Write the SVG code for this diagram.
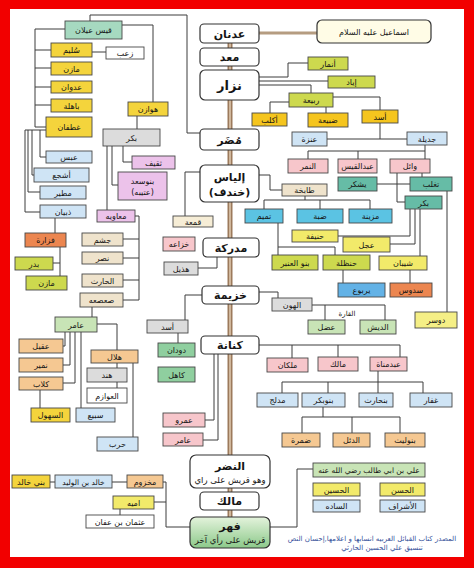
<svg xmlns="http://www.w3.org/2000/svg" width="474" height="568" viewBox="0 0 474 568">
<style>
.b{stroke:#474747;stroke-width:0.9}
.y{fill:#f4d43c}.yg{fill:#cdd94e}.ly{fill:#f2ea6a}.lb{fill:#cfe4f5}.pk{fill:#f7c6cb}.lv{fill:#ecc2ea}
.tl{fill:#66bca6}.cy{fill:#5bc3e3}.gr{fill:#8fcf9f}.lg{fill:#c8e4b6}.bg{fill:#efe3cc}.pc{fill:#f5c892}
.or{fill:#ec8650}.bl{fill:#63b2e6}.gy{fill:#dcdcdc}.wh{fill:#fff}.au{fill:#f5c51e}.qt{fill:#a6d9c0}
.cn{fill:#fff;stroke:#333;stroke-width:1.2}
.t{font-family:"DejaVu Sans","Noto Sans",sans-serif;font-size:8px;text-anchor:middle;fill:#151515;direction:rtl}
.tc{font-family:"DejaVu Sans","Noto Sans",sans-serif;font-size:11px;font-weight:bold;text-anchor:middle;fill:#151515;direction:rtl}
.c path{fill:none;stroke:#3c3c3c;stroke-width:1}
.src{font-family:"DejaVu Sans","Noto Sans",sans-serif;font-size:7px;text-anchor:middle;fill:#34509a;direction:rtl}
</style>
<defs>
<linearGradient id="fg" x1="0" y1="0" x2="0" y2="1"><stop offset="0" stop-color="#e4f3dc"/><stop offset="1" stop-color="#8cc98a"/></linearGradient>
</defs>
<rect x="0" y="0" width="474" height="568" fill="#f20000"/>
<rect x="10" y="9" width="454" height="548" fill="#fff"/>

<g id="connectors" class="c">
<path d="M259,33 H317" style="stroke:#b59c80;stroke-width:3"/>
<path d="M230,43 V517" style="stroke:#9c7a5c;stroke-width:5"/>
<path d="M230,43 V517" style="stroke:#e2cdb2;stroke-width:1.5"/>
<path d="M259,77 H288 V63 H308"/>
<path d="M259,81 H328"/>
<path d="M259,85 H311 V93"/>
<path d="M289,102 H270 V113"/>
<path d="M326,107 V113"/>
<path d="M333,97 H380 V110"/>
<path d="M380,123 V139 M327,139 H407"/>
<path d="M425,145 V159 M308,159 V151 H425 M358,151 V159"/>
<path d="M397,173 V202 H405"/>
<path d="M422,173 V177"/>
<path d="M377,184 H410"/>
<path d="M410,209 V236 H338"/>
<path d="M415,209 V244 H390"/>
<path d="M420,209 V256"/>
<path d="M447,191 V312"/>
<path d="M410,270 V283"/>
<path d="M343,270 V283"/>
<path d="M278,223 V255 M278,247 H335 V255"/>
<path d="M259,175 H270 V190 H282"/>
<path d="M305,196 V200 M264,209 V200 H370 V209 M320,200 V209"/>
<path d="M200,172 H185 V216"/>
<path d="M217,257 V268 H198"/>
<path d="M200,133 H187 V15 H90 V21"/>
<path d="M122,25 H153 V102"/>
<path d="M137,116 V129"/>
<path d="M65,29 H35 V127 H46 M35,50 H51 M35,68 H51 M35,87 H51 M35,105 H51"/>
<path d="M92,52 H106"/>
<path d="M46,130 H25 V212 H40 M28,130 V192 H40 M32,130 V175 H34 M40,130 V157 H46"/>
<path d="M55,218 V233"/>
<path d="M60,247 V276 M60,263 H53"/>
<path d="M123,146 V162 H132"/>
<path d="M112,146 V185 H118"/>
<path d="M107,146 V210"/>
<path d="M135,216 H139 V300 H123 M139,239 H123 M139,258 H123 M139,280 H123"/>
<path d="M92,307 V317"/>
<path d="M65,332 V346 H63 M70,332 V365 H63 M75,332 V383 H63 M81,332 V408"/>
<path d="M97,324 H117 V350"/>
<path d="M117,363 V368 M117,382 V388"/>
<path d="M133,363 V437"/>
<path d="M40,390 V408"/>
<path d="M259,292 H278 V298"/>
<path d="M312,305 H385 M325,305 V320 M385,305 V320"/>
<path d="M202,295 H185 V320"/>
<path d="M178,333 V343"/>
<path d="M259,345 H400 M292,345 V358 M338,345 V357 M400,345 V357"/>
<path d="M378,371 V382 M282,382 H423 M282,382 V393 M328,382 V393 M378,382 V393 M423,382 V393"/>
<path d="M323,407 V417 M302,417 H400 M302,417 V433 M352,417 V433 M400,417 V433"/>
<path d="M214,354 V420 H205"/>
<path d="M218,354 V440 H203"/>
<path d="M190,527 H166 V482 H163 M154,502 H166"/>
<path d="M127,482 H112 M55,482 H50"/>
<path d="M120,509 V515"/>
<path d="M270,527 H297 V469 H313"/>
</g>

<!-- central trunk nodes -->
<g id="n-adnan"><rect class="cn" x="200" y="24" width="59" height="19" rx="4"/><text class="tc" x="229.5" y="38">عدنان</text></g>
<g id="n-maad"><rect class="cn" x="200" y="48" width="59" height="18" rx="4"/><text class="tc" x="229.5" y="61">معد</text></g>
<g id="n-nizar"><rect class="cn" x="200" y="70" width="59" height="30" rx="5"/><text class="tc" x="229.5" y="90" style="font-size:13px">نزار</text></g>
<g id="n-mudar"><rect class="cn" x="200" y="129" width="59" height="21" rx="4"/><text class="tc" x="229.5" y="144">مُضَر</text></g>
<g id="n-ilyas"><rect class="cn" x="200" y="165" width="59" height="37" rx="5"/><text class="tc" x="229.5" y="181">إلياس</text><text class="tc" x="229.5" y="196">(خندف)</text></g>
<g id="n-mudrika"><rect class="cn" x="203" y="238" width="56" height="19" rx="4"/><text class="tc" x="231" y="252">مدركة</text></g>
<g id="n-khuzayma"><rect class="cn" x="202" y="286" width="57" height="18" rx="4"/><text class="tc" x="230.5" y="299">خزيمة</text></g>
<g id="n-kinana"><rect class="cn" x="201" y="336" width="58" height="18" rx="4"/><text class="tc" x="230" y="349">كنانة</text></g>
<g id="n-nadr"><rect class="cn" x="190" y="455" width="80" height="33" rx="6"/><text class="tc" x="230" y="470">النضر</text><text class="t" x="230" y="483" style="font-size:8.5px">وهو قريش على راي</text></g>
<g id="n-malik"><rect class="cn" x="200" y="492" width="59" height="18" rx="4"/><text class="tc" x="229.5" y="505">مالك</text></g>
<g id="n-fihr"><rect x="190" y="517" width="80" height="31" rx="6" fill="url(#fg)" stroke="#333" stroke-width="1.2"/><text class="tc" x="230" y="530">فهر</text><text class="t" x="230" y="543" style="font-size:8.5px">قريش على رأي آخر</text></g>
<g id="n-ismail"><rect x="317" y="20" width="114" height="23" rx="5" fill="#fffce6" stroke="#333" stroke-width="1.2"/><text class="t" x="374" y="35">اسماعيل عليه السلام</text></g>

<!-- right side -->
<g id="n-anmar"><rect class="b yg" x="308" y="57" width="40" height="13"/><text class="t" x="328" y="66.5">أنمار</text></g>
<g id="n-iyad"><rect class="b yg" x="328" y="76" width="47" height="12"/><text class="t" x="351.5" y="85">إياد</text></g>
<g id="n-rabia"><rect class="b yg" x="289" y="93" width="44" height="14"/><text class="t" x="311" y="103">ربيعة</text></g>
<g id="n-aklub"><rect class="b au" x="252" y="113" width="35" height="13"/><text class="t" x="269.5" y="122.5">أكلب</text></g>
<g id="n-dubayaa"><rect class="b au" x="308" y="113" width="40" height="14"/><text class="t" x="328" y="123">ضبيعة</text></g>
<g id="n-asad"><rect class="b au" x="362" y="110" width="36" height="13"/><text class="t" x="380" y="119.5">أسد</text></g>
<g id="n-anaza"><rect class="b lb" x="292" y="132" width="35" height="14"/><text class="t" x="309.5" y="142">عنزة</text></g>
<g id="n-jadila"><rect class="b lb" x="407" y="132" width="40" height="13"/><text class="t" x="427" y="141.5">جديلة</text></g>
<g id="n-namir"><rect class="b pk" x="288" y="159" width="40" height="14"/><text class="t" x="308" y="169">النمر</text></g>
<g id="n-abdqays"><rect class="b pk" x="338" y="159" width="39" height="14"/><text class="t" x="357.5" y="169">عبدالقيس</text></g>
<g id="n-wail"><rect class="b pk" x="390" y="159" width="40" height="14"/><text class="t" x="410" y="169">وائل</text></g>
<g id="n-yashkur"><rect class="b tl" x="338" y="177" width="39" height="14"/><text class="t" x="357.5" y="187">يشكر</text></g>
<g id="n-taghlib"><rect class="b tl" x="410" y="177" width="42" height="14"/><text class="t" x="431" y="187">تغلب</text></g>
<g id="n-bakr2"><rect class="b tl" x="405" y="196" width="37" height="13"/><text class="t" x="423.5" y="205.5">بكر</text></g>
<g id="n-tabikha"><rect class="b bg" x="282" y="184" width="45" height="12"/><text class="t" x="304.5" y="193">طابخة</text></g>
<g id="n-tamim"><rect class="b cy" x="245" y="209" width="38" height="14"/><text class="t" x="264" y="219">تميم</text></g>
<g id="n-dabba"><rect class="b cy" x="297" y="209" width="46" height="14"/><text class="t" x="320" y="219">ضبة</text></g>
<g id="n-muzayna"><rect class="b cy" x="349" y="209" width="43" height="14"/><text class="t" x="370.5" y="219">مزينة</text></g>
<g id="n-hanifa"><rect class="b ly" x="292" y="230" width="46" height="12"/><text class="t" x="315" y="239">حنيفة</text></g>
<g id="n-ijl"><rect class="b ly" x="343" y="237" width="47" height="15"/><text class="t" x="366.5" y="247.5">عجل</text></g>
<g id="n-anbar"><rect class="b yg" x="272" y="255" width="46" height="15"/><text class="t" x="295" y="265.5">بنو العنبر</text></g>
<g id="n-hanzala"><rect class="b yg" x="323" y="255" width="47" height="15"/><text class="t" x="346.5" y="265.5">حنظلة</text></g>
<g id="n-shayban"><rect class="b ly" x="379" y="256" width="48" height="14"/><text class="t" x="403" y="266">شيبان</text></g>
<g id="n-yarbu"><rect class="b bl" x="338" y="283" width="47" height="14"/><text class="t" x="361.5" y="293">يربوع</text></g>
<g id="n-sadus"><rect class="b or" x="390" y="283" width="42" height="14"/><text class="t" x="411" y="293">سدوس</text></g>
<g id="n-dawsar"><rect class="b" x="415" y="312" width="42" height="16" fill="#f5ef86"/><text class="t" x="436" y="323">دوسر</text></g>
<g id="n-hawn"><rect class="b gy" x="272" y="298" width="40" height="13"/><text class="t" x="292" y="307.5">الهون</text></g>
<g id="n-qara"><text class="t" x="347" y="316" style="font-size:7px">القارة</text></g>
<g id="n-adal"><rect class="b lg" x="308" y="320" width="37" height="14"/><text class="t" x="326.5" y="330">عضل</text></g>
<g id="n-dish"><rect class="b lg" x="360" y="320" width="36" height="14"/><text class="t" x="378" y="330">الديش</text></g>
<g id="n-asad2"><rect class="b gy" x="147" y="320" width="41" height="13"/><text class="t" x="167.5" y="329.5">أسد</text></g>
<g id="n-dudan"><rect class="b gr" x="158" y="343" width="37" height="14"/><text class="t" x="176.5" y="353">دودان</text></g>
<g id="n-kahil"><rect class="b gr" x="158" y="367" width="37" height="15"/><text class="t" x="176.5" y="377.5">كاهل</text></g>
<g id="n-milkan"><rect class="b pk" x="267" y="358" width="41" height="14"/><text class="t" x="287.5" y="368">ملكان</text></g>
<g id="n-malik2"><rect class="b pk" x="318" y="357" width="40" height="14"/><text class="t" x="338" y="367">مالك</text></g>
<g id="n-abdmanat"><rect class="b pk" x="370" y="357" width="37" height="14"/><text class="t" x="388.5" y="367">عبدمناة</text></g>
<g id="n-mudlij"><rect class="b lb" x="257" y="393" width="41" height="14"/><text class="t" x="277.5" y="403">مدلج</text></g>
<g id="n-banubakr"><rect class="b lb" x="302" y="393" width="43" height="14"/><text class="t" x="323.5" y="403">بنوبكر</text></g>
<g id="n-banuharith"><rect class="b lb" x="359" y="393" width="34" height="14"/><text class="t" x="376" y="403">بنحارث</text></g>
<g id="n-ghifar"><rect class="b lb" x="410" y="393" width="42" height="14"/><text class="t" x="431" y="403">غفار</text></g>
<g id="n-damra"><rect class="b pc" x="282" y="433" width="38" height="14"/><text class="t" x="301" y="443">ضمرة</text></g>
<g id="n-duil"><rect class="b pc" x="333" y="433" width="37" height="14"/><text class="t" x="351.5" y="443">الدئل</text></g>
<g id="n-banulayth"><rect class="b pc" x="385" y="433" width="40" height="14"/><text class="t" x="405" y="443">بنوليث</text></g>
<g id="n-amr"><rect class="b pk" x="163" y="413" width="42" height="14"/><text class="t" x="184" y="423">عمرو</text></g>
<g id="n-amir2"><rect class="b pk" x="163" y="433" width="40" height="13"/><text class="t" x="183" y="442.5">عامر</text></g>
<g id="n-ali"><rect class="b lg" x="313" y="463" width="112" height="14"/><text class="t" x="369" y="473" style="font-size:7.5px">علي بن ابي طالب رضي الله عنه</text></g>
<g id="n-husayn"><rect class="b ly" x="313" y="483" width="47" height="13"/><text class="t" x="336.5" y="492.5">الحسين</text></g>
<g id="n-hasan"><rect class="b ly" x="380" y="483" width="45" height="13"/><text class="t" x="402.5" y="492.5">الحسن</text></g>
<g id="n-sada"><rect class="b lb" x="313" y="500" width="47" height="12"/><text class="t" x="336.5" y="509">الساده</text></g>
<g id="n-ashraf"><rect class="b lb" x="380" y="500" width="45" height="12"/><text class="t" x="402.5" y="509">الأشراف</text></g>
<g id="n-makhzum"><rect class="b pc" x="127" y="475" width="36" height="13"/><text class="t" x="145" y="484.5">مخزوم</text></g>
<g id="n-khalid"><rect class="b lb" x="55" y="475" width="57" height="13"/><text class="t" x="83.5" y="484.5" style="font-size:7.5px">خالد بن الوليد</text></g>
<g id="n-banikhalid"><rect class="b y" x="12" y="475" width="38" height="13"/><text class="t" x="31" y="484.5">بني خالد</text></g>
<g id="n-umayya"><rect class="b ly" x="113" y="496" width="41" height="13"/><text class="t" x="133.5" y="505.5">اميه</text></g>
<g id="n-uthman"><rect class="b wh" x="86" y="515" width="68" height="13"/><text class="t" x="120" y="524.5">عثمان بن عفان</text></g>

<!-- left side -->
<g id="n-qays"><rect class="b qt" x="65" y="21" width="57" height="18"/><text class="t" x="93.5" y="33">قيس عيلان</text></g>
<g id="n-sulaym"><rect class="b y" x="51" y="43" width="41" height="14"/><text class="t" x="71.5" y="53">سُليم</text></g>
<g id="n-zaab"><rect class="b wh" x="106" y="47" width="38" height="12"/><text class="t" x="125" y="56">زعب</text></g>
<g id="n-mazin"><rect class="b y" x="51" y="62" width="41" height="13"/><text class="t" x="71.5" y="71.5">مازن</text></g>
<g id="n-adwan"><rect class="b y" x="51" y="81" width="41" height="12"/><text class="t" x="71.5" y="90">عدوان</text></g>
<g id="n-bahila"><rect class="b y" x="51" y="99" width="41" height="13"/><text class="t" x="71.5" y="108.5">باهلة</text></g>
<g id="n-ghatafan"><rect class="b y" x="46" y="117" width="46" height="20"/><text class="t" x="69" y="130">غطفان</text></g>
<g id="n-hawazin"><rect class="b y" x="128" y="102" width="40" height="14"/><text class="t" x="148" y="112">هوازن</text></g>
<g id="n-bakr1"><rect class="b gy" x="103" y="129" width="57" height="17"/><text class="t" x="131.5" y="140.5">بكر</text></g>
<g id="n-abs"><rect class="b lb" x="46" y="151" width="46" height="12"/><text class="t" x="69" y="160">عبس</text></g>
<g id="n-ashja"><rect class="b lb" x="34" y="168" width="55" height="14"/><text class="t" x="61.5" y="178">أشجع</text></g>
<g id="n-mutayr"><rect class="b lb" x="40" y="186" width="46" height="13"/><text class="t" x="63" y="195.5">مطير</text></g>
<g id="n-dhubyan"><rect class="b lb" x="40" y="205" width="46" height="13"/><text class="t" x="63" y="214.5">ذبيان</text></g>
<g id="n-thaqif"><rect class="b lv" x="132" y="156" width="43" height="13"/><text class="t" x="153.5" y="165.5">ثقيف</text></g>
<g id="n-banusaad"><rect class="b lv" x="118" y="172" width="49" height="28"/><text class="t" x="142.5" y="184">بنوسعد</text><text class="t" x="142.5" y="195">(عتيبه)</text></g>
<g id="n-muawiya"><rect class="b lv" x="97" y="210" width="38" height="12"/><text class="t" x="116" y="219">معاويه</text></g>
<g id="n-fazara"><rect class="b or" x="25" y="233" width="41" height="14"/><text class="t" x="45.5" y="243">فزارة</text></g>
<g id="n-badr"><rect class="b yg" x="15" y="257" width="38" height="13"/><text class="t" x="34" y="266.5">بدر</text></g>
<g id="n-mazin2"><rect class="b yg" x="26" y="276" width="41" height="14"/><text class="t" x="46.5" y="286">مازن</text></g>
<g id="n-jusham"><rect class="b bg" x="82" y="233" width="41" height="13"/><text class="t" x="102.5" y="242.5">جشم</text></g>
<g id="n-nasr"><rect class="b bg" x="82" y="252" width="41" height="12"/><text class="t" x="102.5" y="261">نصر</text></g>
<g id="n-harith"><rect class="b bg" x="82" y="274" width="41" height="13"/><text class="t" x="102.5" y="283.5">الحارث</text></g>
<g id="n-saasaa"><rect class="b bg" x="80" y="293" width="43" height="14"/><text class="t" x="101.5" y="303">صعصعه</text></g>
<g id="n-amir"><rect class="b lg" x="55" y="317" width="42" height="15"/><text class="t" x="76" y="327.5">عامر</text></g>
<g id="n-aqil"><rect class="b pc" x="19" y="339" width="44" height="14"/><text class="t" x="41" y="349">عقيل</text></g>
<g id="n-numayr"><rect class="b pc" x="19" y="358" width="44" height="14"/><text class="t" x="41" y="368">نمير</text></g>
<g id="n-kilab"><rect class="b pc" x="19" y="377" width="44" height="13"/><text class="t" x="41" y="386.5">كلاب</text></g>
<g id="n-hilal"><rect class="b pc" x="91" y="350" width="47" height="13"/><text class="t" x="114.5" y="359.5">هلال</text></g>
<g id="n-hind"><rect class="b gy" x="87" y="368" width="40" height="14"/><text class="t" x="107" y="378">هند</text></g>
<g id="n-awazim"><rect class="b wh" x="87" y="388" width="40" height="15"/><text class="t" x="107" y="398.5">العوازم</text></g>
<g id="n-suhul"><rect class="b y" x="31" y="408" width="39" height="14"/><text class="t" x="50.5" y="418">السهول</text></g>
<g id="n-subay"><rect class="b lb" x="76" y="408" width="39" height="14"/><text class="t" x="95.5" y="418">سبيع</text></g>
<g id="n-harb"><rect class="b lb" x="97" y="437" width="41" height="14"/><text class="t" x="117.5" y="447">حرب</text></g>
<g id="n-qama"><rect class="b" x="173" y="216" width="40" height="11" fill="#f6edd6"/><text class="t" x="193" y="224.5">قمعة</text></g>
<g id="n-khuzaa"><rect class="b pk" x="163" y="237" width="32" height="14"/><text class="t" x="179" y="247">خزاعه</text></g>
<g id="n-hudhayl"><rect class="b gy" x="164" y="262" width="34" height="13"/><text class="t" x="181" y="271.5">هذيل</text></g>

<g id="source">
<text class="src" x="372" y="541">المصدر كتاب القبائل العربيه انسابها و اعلامها,إحسان النص</text>
<text class="src" x="382" y="550">تنسيق علي الحسين الحارثي</text>
</g>
</svg>
